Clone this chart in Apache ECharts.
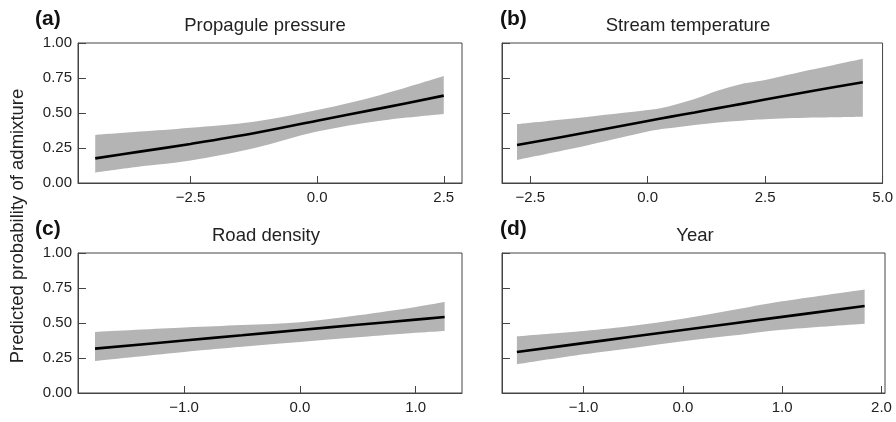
<!DOCTYPE html>
<html><head><meta charset="utf-8">
<script src="https://cdn.jsdelivr.net/npm/echarts@6/dist/echarts.min.js"></script>
<style>html,body{margin:0;padding:0;background:#fff}#c{width:896px;height:422px}</style>
</head><body><div id="c"></div>
<script>
// ---- data ----
const panelTitles = ['Propagule pressure', 'Stream temperature', 'Road density', 'Year'];
const panelTags = ['(a)', '(b)', '(c)', '(d)'];
const yTicks = [0, 0.25, 0.5, 0.75, 1.0];

const xTicksA = [-2.5, 0, 2.5];
const xA   = [-4.38, -3.5, -2.5, -1.25, 0, 1.25, 2.5];
const fitA = [0.176, 0.224, 0.279, 0.355, 0.445, 0.533, 0.624];
const loA  = [0.074, 0.117, 0.160, 0.248, 0.367, 0.445, 0.493];
const hiA  = [0.343, 0.367, 0.395, 0.438, 0.521, 0.629, 0.764];

const xTicksB = [-2.5, 0, 2.5, 5.0];
const xB   = [-2.78, -1.25, 0, 0.5, 1, 1.5, 2, 2.5, 3.5, 4.58];
const fitB = [0.271, 0.364, 0.443, 0.474, 0.504, 0.535, 0.565, 0.596, 0.657, 0.719];
const loB  = [0.164, 0.271, 0.367, 0.392, 0.414, 0.432, 0.445, 0.455, 0.467, 0.474];
const hiB  = [0.421, 0.474, 0.521, 0.552, 0.600, 0.660, 0.708, 0.736, 0.810, 0.888];

const xTicksC = [-1.0, 0, 1.0];
const xC   = [-1.77, -1, -0.5, 0, 0.5, 1, 1.25];
const fitC = [0.317, 0.375, 0.412, 0.450, 0.487, 0.524, 0.543];
const loC  = [0.229, 0.293, 0.330, 0.364, 0.398, 0.430, 0.443];
const hiC  = [0.436, 0.467, 0.485, 0.505, 0.555, 0.615, 0.650];

const xTicksD = [-1.0, 0, 1.0, 2.0];
const xD   = [-1.67, -1, -0.5, 0, 0.5, 1, 1.83];
const fitD = [0.293, 0.356, 0.403, 0.450, 0.497, 0.544, 0.621];
const loD  = [0.205, 0.276, 0.322, 0.369, 0.410, 0.452, 0.495];
const hiD  = [0.405, 0.443, 0.480, 0.531, 0.592, 0.655, 0.740];

// ---- layout ----
const panels = [
  {xs: xA, fit: fitA, lo: loA, hi: hiA, ticks: xTicksA, min: -4.72, max: 2.86, left: 78, top: 43, width: 384, yLabels: true, titleX: 265, tagX: 35},
  {xs: xB, fit: fitB, lo: loB, hi: hiB, ticks: xTicksB, min: -3.10, max: 5.0, left: 502, top: 43, width: 383, yLabels: false, titleX: 688, tagX: 500},
  {xs: xC, fit: fitC, lo: loC, hi: hiC, ticks: xTicksC, min: -1.917, max: 1.40, left: 78, top: 253, width: 384, yLabels: true, titleX: 266, tagX: 35},
  {xs: xD, fit: fitD, lo: loD, hi: hiD, ticks: xTicksD, min: -1.82, max: 2.035, left: 502, top: 253, width: 383, yLabels: false, titleX: 695, tagX: 500}
];

const FONT = '"Liberation Sans", Arial, sans-serif';
const fmtX = v => (v < 0 ? '\u2212' : '') + Math.abs(v).toFixed(1);

// smooth path through pixel points (Catmull-Rom -> cubic Bezier)
function bezierSegs(pts) {
  let d = '';
  for (let i = 0; i < pts.length - 1; i++) {
    const p0 = pts[Math.max(i - 1, 0)], p1 = pts[i], p2 = pts[i + 1], p3 = pts[Math.min(i + 2, pts.length - 1)];
    const c1 = [p1[0] + (p2[0] - p0[0]) / 6, p1[1] + (p2[1] - p0[1]) / 6];
    const c2 = [p2[0] - (p3[0] - p1[0]) / 6, p2[1] - (p3[1] - p1[1]) / 6];
    d += ' C' + c1[0] + ' ' + c1[1] + ' ' + c2[0] + ' ' + c2[1] + ' ' + p2[0] + ' ' + p2[1];
  }
  return d;
}

const grid = [], xAxis = [], yAxis = [], series = [], graphic = [];
panels.forEach((p, i) => {
  grid.push({left: p.left, top: p.top, width: p.width, height: 140, show: true,
    borderColor: '#444', borderWidth: 1, backgroundColor: 'transparent', containLabel: false});
  xAxis.push({type: 'value', gridIndex: i, min: p.min, max: p.max,
    axisLine: {show: true, onZero: false, lineStyle: {color: '#444', width: 1}},
    axisTick: {show: true, inside: true, length: 7, customValues: p.ticks, lineStyle: {color: '#444'}},
    axisLabel: {show: true, customValues: p.ticks, formatter: fmtX, margin: 7,
      color: '#222', fontSize: 15, fontFamily: FONT},
    splitLine: {show: false}});
  yAxis.push({type: 'value', gridIndex: i, min: 0, max: 1,
    axisLine: {show: true, onZero: false, lineStyle: {color: '#444', width: 1}},
    axisTick: {show: true, inside: true, length: 8, customValues: yTicks, lineStyle: {color: '#444'}},
    axisLabel: {show: p.yLabels, customValues: yTicks, formatter: v => v.toFixed(2), margin: 6,
      color: '#222', fontSize: 15, fontFamily: FONT},
    splitLine: {show: false}});
  series.push({type: 'custom', xAxisIndex: i, yAxisIndex: i, silent: true, z: 1,
    encode: {x: 0, y: [1, 2]},
    data: p.xs.map((x, k) => [x, p.lo[k], p.hi[k]]),
    renderItem: (params, api) => {
      if (params.dataIndex !== 0) return;
      const up = p.xs.map((x, k) => api.coord([x, p.hi[k]]));
      const dn = p.xs.map((x, k) => api.coord([x, p.lo[k]])).reverse();
      const d = 'M' + up[0][0] + ' ' + up[0][1] + bezierSegs(up) +
        ' L' + dn[0][0] + ' ' + dn[0][1] + bezierSegs(dn) + ' Z';
      return {type: 'path', shape: {pathData: d}, style: {fill: '#b4b4b4', stroke: null}};
    }});
  series.push({type: 'line', xAxisIndex: i, yAxisIndex: i, smooth: 0.35, z: 3,
    symbol: 'none', lineStyle: {color: '#000', width: 2.6}, silent: true,
    data: p.xs.map((x, k) => [x, p.fit[k]])});
  graphic.push({type: 'text', x: p.tagX, y: p.top - 24,
    style: {text: panelTags[i], font: 'bold 21px "Liberation Sans", Arial, sans-serif', fill: '#111',
      align: 'left', verticalAlign: 'middle'}});
  graphic.push({type: 'text', x: p.titleX, y: p.top - 17,
    style: {text: panelTitles[i], font: '18.5px "Liberation Sans", Arial, sans-serif', fill: '#222',
      align: 'center', verticalAlign: 'middle'}});
});
graphic.push({type: 'text', x: 18, y: 226, rotation: Math.PI / 2,
  style: {text: 'Predicted probability of admixture', font: '18.5px "Liberation Sans", Arial, sans-serif',
    fill: '#222', align: 'center', verticalAlign: 'middle'}});

const chart = echarts.init(document.getElementById('c'), null, {renderer: 'canvas'});
chart.setOption({animation: false, grid, xAxis, yAxis, series, graphic});
</script></body></html>
